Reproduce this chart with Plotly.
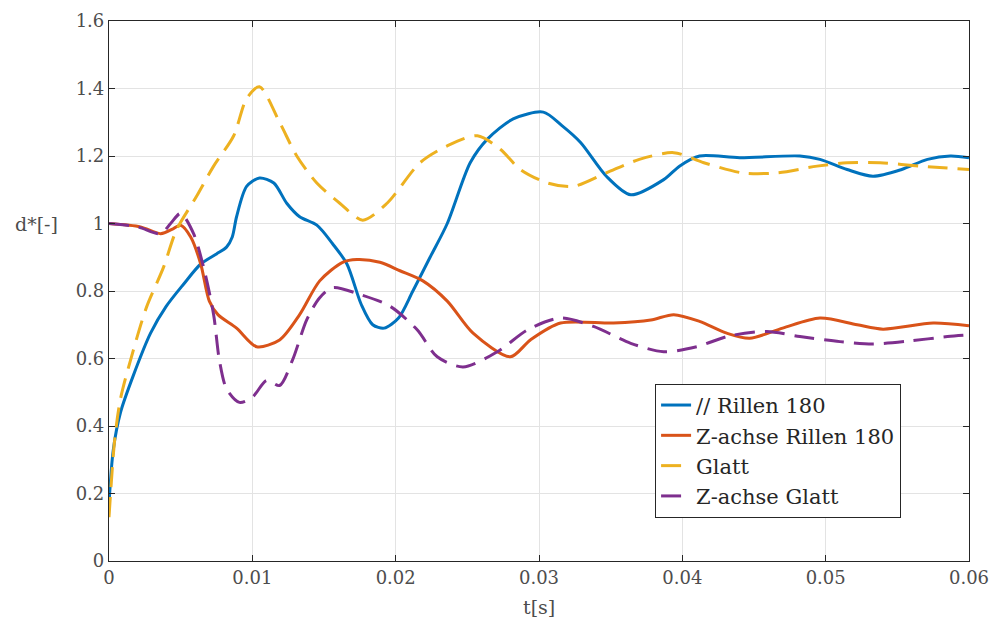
import plotly.graph_objects as go

# ---- data ----
t_blue = [0, 0.0003, 0.0008, 0.0017, 0.0029, 0.004, 0.0052, 0.0064, 0.0075, 0.0082, 0.0086, 0.0089,
          0.0096, 0.0105, 0.0115, 0.0124, 0.0133, 0.0145, 0.0156, 0.0166, 0.0176, 0.0184, 0.0192,
          0.0202, 0.0212, 0.0224, 0.0236, 0.0252, 0.0264, 0.0282, 0.0303, 0.0316, 0.0329, 0.0347,
          0.0364, 0.0387, 0.0398, 0.0412, 0.044, 0.0482, 0.0496, 0.0515, 0.0533, 0.0553, 0.0571,
          0.0587, 0.06]
y_blue = [0.17, 0.33, 0.44, 0.55, 0.675, 0.755, 0.82, 0.88, 0.91, 0.93, 0.96, 1.02,
          1.11, 1.135, 1.12, 1.06, 1.02, 0.995, 0.94, 0.88, 0.76, 0.70, 0.69,
          0.72, 0.80, 0.90, 1.0, 1.18, 1.25, 1.31, 1.33, 1.29, 1.24, 1.14,
          1.085, 1.13, 1.17, 1.20, 1.195, 1.20, 1.19, 1.16, 1.14, 1.16, 1.19,
          1.20, 1.195]

t_orange = [0, 0.0022, 0.0036, 0.0045, 0.005, 0.0057, 0.0064, 0.007, 0.0076, 0.0089, 0.0103,
            0.0119, 0.0133, 0.0147, 0.0163, 0.0173, 0.0189, 0.0203, 0.0219, 0.0236, 0.0254,
            0.028, 0.0294, 0.0315, 0.0352, 0.0378, 0.0394, 0.0412, 0.0431, 0.0447, 0.047,
            0.0496, 0.0522, 0.054, 0.0575, 0.06]
y_orange = [1.0, 0.99, 0.97, 0.985, 0.995, 0.96, 0.88, 0.77, 0.73, 0.69, 0.635,
            0.655, 0.73, 0.83, 0.885, 0.893, 0.885, 0.86, 0.83, 0.77, 0.675,
            0.605, 0.655, 0.705, 0.705, 0.714, 0.73, 0.71, 0.675, 0.66, 0.69,
            0.72, 0.70, 0.687, 0.705, 0.697]

t_yellow = [0, 0.0004, 0.0008, 0.0017, 0.0026, 0.0038, 0.0047, 0.0061, 0.0073, 0.0087, 0.0096,
            0.0105, 0.0119, 0.0131, 0.0145, 0.0161, 0.0177, 0.0194, 0.0217, 0.0236, 0.0257,
            0.0273, 0.0287, 0.0306, 0.0324, 0.0347, 0.037, 0.0394, 0.0415, 0.0442, 0.0466,
            0.0494, 0.0515, 0.0538, 0.0566, 0.06]
y_yellow = [0.13, 0.36, 0.48, 0.625, 0.75, 0.87, 0.98, 1.08, 1.17, 1.26, 1.37,
            1.405, 1.30, 1.20, 1.12, 1.06, 1.01, 1.06, 1.18, 1.23, 1.26,
            1.22, 1.16, 1.12, 1.11, 1.15, 1.19, 1.21, 1.18, 1.15, 1.15,
            1.17, 1.18, 1.18, 1.17, 1.16]

t_purple = [0, 0.002, 0.0036, 0.0043, 0.005, 0.0059, 0.0066, 0.0073, 0.0077, 0.0082, 0.0091,
            0.01, 0.011, 0.0119, 0.0128, 0.0138, 0.0147, 0.0156, 0.0175, 0.0196, 0.0215,
            0.0229, 0.0247, 0.0271, 0.0292, 0.0315, 0.0338, 0.0364, 0.0387, 0.041, 0.0433,
            0.0459, 0.0482, 0.051, 0.0533, 0.0559, 0.0585, 0.06]
y_purple = [1.0, 0.99, 0.97, 1.0, 1.03, 0.97, 0.87, 0.73, 0.595, 0.51, 0.47,
            0.485, 0.535, 0.52, 0.595, 0.715, 0.78, 0.81, 0.79, 0.755, 0.685,
            0.605, 0.575, 0.62, 0.685, 0.72, 0.695, 0.645, 0.62, 0.635, 0.667,
            0.68, 0.665, 0.65, 0.643, 0.652, 0.665, 0.67]

names = ["// Rillen 180", "Z-achse Rillen 180", "Glatt", "Z-achse Glatt"]
colors = ["#0072BD", "#D95319", "#EDB120", "#7E2F8E"]
dashes = ["solid", "solid", "20px,10px", "20px,10px"]
x_ticks = [0, 0.01, 0.02, 0.03, 0.04, 0.05, 0.06]
y_ticks = [0, 0.2, 0.4, 0.6, 0.8, 1, 1.2, 1.4, 1.6]

series = [(t_blue, y_blue), (t_orange, y_orange), (t_yellow, y_yellow), (t_purple, y_purple)]

FONT = "DejaVu Serif"
fig = go.Figure()
for (tx, ty), nm, c, d in zip(series, names, colors, dashes):
    fig.add_trace(go.Scatter(x=tx, y=ty, mode="lines", name=nm,
                             line=dict(color=c, width=3, dash=d, shape="spline", smoothing=0.8)))

axis_common = dict(showline=True, linecolor="#262626", linewidth=1.2, mirror="ticks",
                   ticks="inside", ticklen=6, tickcolor="#262626", automargin=False,
                   showgrid=True, gridcolor="#e3e3e3", gridwidth=1, zeroline=False,
                   tickfont=dict(family=FONT, size=18, color="#4d4d4d"))

fig.update_xaxes(range=[0, 0.06], tickvals=x_ticks, ticktext=[f"{v:g}" for v in x_ticks],
                 **axis_common)
fig.update_yaxes(range=[0, 1.6], tickvals=y_ticks, ticktext=[f"{v:g}" for v in y_ticks],
                 **axis_common)

fig.add_annotation(text="t[s]", x=0.5, y=-0.062, xref="paper", yref="paper",
                   xanchor="center", yanchor="top", showarrow=False,
                   font=dict(family=FONT, size=19, color="#4d4d4d"))
fig.add_annotation(text="d*[-]", x=-0.057, y=1.0, xref="paper", yref="y",
                   xanchor="right", yanchor="middle", showarrow=False,
                   font=dict(family=FONT, size=19, color="#4d4d4d"))

fig.update_layout(
    width=993, height=628,
    margin=dict(l=109, r=24, t=21, b=67, autoexpand=False),
    paper_bgcolor="white", plot_bgcolor="white",
    showlegend=True,
    legend=dict(x=0.778, y=0.328, xanchor="center", yanchor="top",
                bgcolor="white", bordercolor="#262626", borderwidth=1,
                font=dict(family=FONT, size=21, color="#262626")),
)

fig.write_html("out.html")
